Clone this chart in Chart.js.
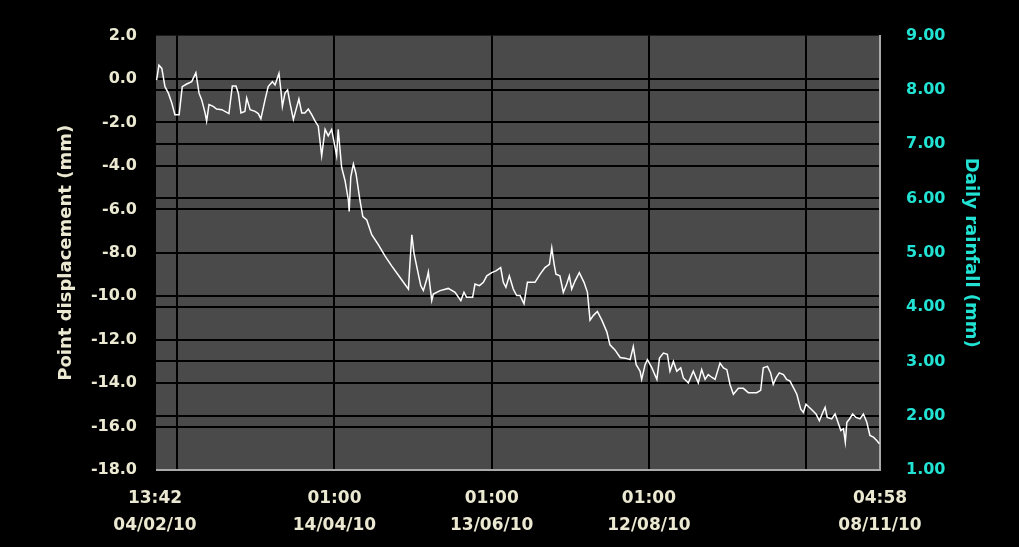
<!DOCTYPE html>
<html>
<head>
<meta charset="utf-8">
<script src="https://cdn.jsdelivr.net/npm/chart.js@4.4.1/dist/chart.umd.min.js"></script>
<style>
html, body { margin: 0; padding: 0; background: #000; }
</style>
</head>
<body>
<canvas id="chart" width="1019" height="547"></canvas>
<script>
// days since 13:42 04/02/10
const dayOffsets = [0.6, 1.5, 2.6, 3.8, 5.1, 6.4, 7.6, 9.2, 10.4, 12.1, 14.0, 15.6, 16.8, 17.8, 19.1, 19.7, 20.6, 22.2, 23.5, 25.5,
  28.2, 29.5, 30.9, 31.8, 32.8, 34.3, 35.0, 36.3, 38.2, 39.4, 40.4, 42.0, 43.2, 44.8, 45.8, 47.3, 48.1, 48.6, 49.6, 50.6,
  51.5, 52.8, 53.8, 54.9, 56.0, 57.2, 58.5, 59.8, 61.1, 62.3, 63.6, 64.9, 66.1, 67.4, 69.3, 69.9, 71.2, 72.5, 73.8, 74.1,
  74.7, 75.7, 76.7, 78.2, 79.3, 80.8, 82.7, 85.2, 87.8, 90.3, 93.5, 96.7, 97.3, 98.0, 98.8, 100.1, 101.4, 102.4, 103.7, 104.3,
  105.6, 106.2, 108.8, 111.9, 114.5, 116.7, 117.9, 118.9, 121.2, 122.1, 123.8, 125.3, 126.6, 128.5, 130.1, 131.9, 132.9, 133.9, 135.2, 136.7,
  138.0, 139.3, 140.8, 142.1, 145.0, 146.9, 148.8, 150.5, 151.4, 152.3, 153.0, 154.5, 155.8, 157.1, 158.1, 159.0, 160.3, 161.9, 163.7, 165.0,
  166.0, 167.3, 168.8, 170.5, 172.4, 173.6, 175.5, 177.5, 179.4, 181.3, 182.5, 183.6, 185.1, 185.7, 187.0, 187.9, 189.6, 191.5, 192.5, 194.0,
  195.5, 196.5, 197.8, 199.1, 200.6, 201.6, 203.5, 205.4, 207.3, 208.6, 209.9, 211.1, 212.4, 213.7, 215.6, 216.9, 218.2, 219.4, 220.7, 222.6,
  224.5, 226.4, 229.6, 231.1, 232.1, 233.7, 234.9, 235.9, 237.0, 238.2, 239.8, 241.0, 242.3, 243.6, 244.9, 246.4, 247.4, 248.4, 249.7, 251.0,
  252.2, 253.5, 254.8, 255.7, 256.5, 258.2, 259.5, 260.4, 261.7, 262.7, 263.4, 264.0, 265.0, 266.2, 267.5, 269.0, 270.3, 271.6, 272.8, 274.1,
  275.4, 276.4];
// point displacement (mm)
const displacement = [-0.05, 0.64, 0.49, -0.35, -0.65, -1.10, -1.64, -1.64, -0.35, -0.23, -0.12, 0.29, -0.65, -0.95, -1.56, -1.94, -1.18, -1.26, -1.38, -1.41,
  -1.59, -0.32, -0.32, -0.65, -1.56, -1.49, -0.88, -1.41, -1.49, -1.59, -1.83, -0.95, -0.35, -0.12, -0.27, 0.26, -0.58, -1.26, -0.65, -0.50,
  -1.10, -1.86, -1.41, -0.92, -1.56, -1.56, -1.38, -1.64, -1.94, -2.17, -3.53, -2.32, -2.62, -2.32, -3.53, -2.32, -4.06, -4.67, -5.58, -6.10,
  -4.51, -3.91, -4.36, -5.58, -6.33, -6.49, -7.17, -7.62, -8.15, -8.60, -9.14, -9.67, -8.45, -7.17, -8.00, -8.76, -9.51, -9.74, -9.21, -8.88,
  -10.20, -9.90, -9.74, -9.64, -9.82, -10.20, -9.82, -10.05, -10.05, -9.44, -9.51, -9.36, -9.06, -8.91, -8.83, -8.68, -9.36, -9.59, -9.06, -9.67,
  -9.97, -9.97, -10.35, -9.36, -9.36, -8.99, -8.68, -8.53, -7.77, -8.53, -8.99, -9.06, -9.82, -9.44, -9.06, -9.67, -9.29, -8.91, -9.36, -9.82,
  -11.10, -10.88, -10.70, -11.10, -11.64, -12.24, -12.47, -12.82, -12.85, -12.92, -12.32, -13.15, -13.45, -13.83, -13.15, -12.92, -13.30, -13.83, -12.85, -12.62,
  -12.67, -13.45, -13.00, -13.45, -13.30, -13.76, -13.99, -13.45, -13.99, -13.38, -13.83, -13.61, -13.73, -13.83, -13.08, -13.30, -13.38, -14.06, -14.51, -14.24,
  -14.24, -14.44, -14.44, -14.33, -13.30, -13.23, -13.53, -14.06, -13.76, -13.53, -13.61, -13.83, -13.91, -14.21, -14.51, -15.20, -15.35, -14.97, -15.12, -15.27,
  -15.42, -15.73, -15.35, -15.12, -15.58, -15.65, -15.42, -15.73, -16.18, -16.10, -16.71, -15.80, -15.65, -15.42, -15.58, -15.65, -15.42, -15.80, -16.41, -16.49,
  -16.64, -16.79];

const xTickDays = [0, 8.47, 68.47, 128.47, 188.47, 248.47, 276.64];
const xTickLabels = [["13:42", "04/02/10"], "", ["01:00", "14/04/10"], ["01:00", "13/06/10"], ["01:00", "12/08/10"], "", ["04:58", "08/11/10"]];

const CREAM = "#ECE9D2";
const CYAN = "#22E3D3";
const PLOT_BG = "#4a4a4a";
const FONT = "'DejaVu Sans', sans-serif";

// hide grid lines lying on the plot edges
function edgeGrid(c) {
    const n = c.scale.ticks.length;
    return (c.index === 0 || c.index === n - 1) ? "rgba(0,0,0,0)" : "#000";
}

const plotBg = {
    id: "plotBg",
    beforeDraw(chart) {
        const {ctx, chartArea: a} = chart;
        ctx.save();
        ctx.fillStyle = "#000";
        ctx.fillRect(0, 0, chart.width, chart.height);
        ctx.fillStyle = PLOT_BG;
        ctx.fillRect(a.left, a.top, a.right - a.left, a.bottom - a.top);
        ctx.restore();
    }
};

const points = dayOffsets.map((d, i) => ({x: d, y: displacement[i]}));

new Chart(document.getElementById("chart"), {
    type: "line",
    data: {
        datasets: [{
            data: points,
            borderColor: "#ffffff",
            borderWidth: 1.5,
            pointRadius: 0,
            tension: 0,
            yAxisID: "y",
            xAxisID: "x"
        }]
    },
    options: {
        responsive: false,
        animation: false,
        layout: {padding: {top: 30, left: 0, right: 0, bottom: 0}},
        plugins: {legend: {display: false}, tooltip: {enabled: false}},
        scales: {
            x: {
                type: "linear",
                min: 0,
                max: 276.64,
                afterBuildTicks: s => { s.ticks = xTickDays.map(v => ({value: v})); },
                afterFit: s => { s.height = 77; },
                grid: {color: edgeGrid, lineWidth: 2, drawTicks: false},
                border: {color: "#a9a9a9", width: 2},
                ticks: {
                    autoSkip: false,
                    maxRotation: 0,
                    color: CREAM,
                    padding: 15,
                    font: {family: FONT, size: 17, weight: "bold", lineHeight: 1.6},
                    callback: (v, i) => xTickLabels[i]
                }
            },
            y: {
                position: "left",
                min: -18,
                max: 2,
                afterFit: s => { s.width = 155; },
                grid: {color: edgeGrid, lineWidth: 2, drawTicks: false},
                border: {color: "#000", width: 2},
                ticks: {
                    stepSize: 2,
                    color: CREAM,
                    padding: 18,
                    font: {family: FONT, size: 16, weight: "bold"},
                    callback: v => v.toFixed(1)
                },
                title: {
                    display: true,
                    text: "Point displacement (mm)",
                    color: CREAM,
                    font: {family: FONT, size: 18, weight: "bold"},
                    padding: {top: 56, bottom: 0}
                }
            },
            y1: {
                position: "right",
                min: 1,
                max: 9,
                afterFit: s => { s.width = 139; },
                grid: {color: edgeGrid, lineWidth: 2, drawTicks: false},
                border: {color: "#a9a9a9", width: 2},
                ticks: {
                    stepSize: 1,
                    color: CYAN,
                    padding: 26,
                    font: {family: FONT, size: 16, weight: "bold"},
                    callback: v => v.toFixed(2)
                },
                title: {
                    display: true,
                    text: "Daily rainfall (mm)",
                    color: CYAN,
                    font: {family: FONT, size: 18, weight: "bold"},
                    padding: {top: 38, bottom: 0}
                }
            }
        }
    },
    plugins: [plotBg]
});
</script>
</body>
</html>
